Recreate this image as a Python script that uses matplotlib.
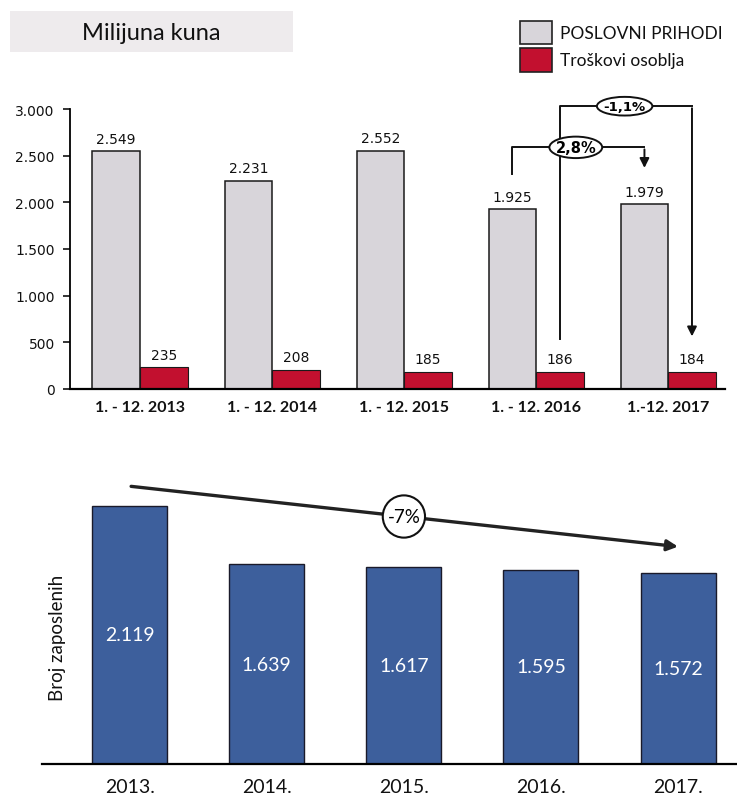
import matplotlib
matplotlib.use("Agg")
import matplotlib.pyplot as plt
from matplotlib.patches import Rectangle, Ellipse

# ---------------- data ----------------
periods = ["1. - 12. 2013", "1. - 12. 2014", "1. - 12. 2015", "1. - 12. 2016", "1.-12. 2017"]
revenue = [2549, 2231, 2552, 1925, 1979]
staff_costs = [235, 208, 185, 186, 184]
revenue_labels = ["2.549", "2.231", "2.552", "1.925", "1.979"]
cost_labels = ["235", "208", "185", "186", "184"]
yticks_top = [0, 500, 1000, 1500, 2000, 2500, 3000]
yticklabels_top = ["0", "500", "1.000", "1.500", "2.000", "2.500", "3.000"]
change_rev = "2,8%"
change_cost = "-1,1%"

years = ["2013.", "2014.", "2015.", "2016.", "2017."]
employees = [2119, 1639, 1617, 1595, 1572]
employee_labels = ["2.119", "1.639", "1.617", "1.595", "1.572"]
change_emp = "-7%"

GRAY = "#d8d5da"
RED = "#c2102f"
BLUE = "#3d5f9c"
W, H = 737, 804

fig = plt.figure(figsize=(W / 100, H / 100), dpi=100)


def fx(px):
    return px / W


def fy(py):
    return 1 - py / H


# ---------------- title box & legend ----------------
fig.patches.append(Rectangle((fx(10), fy(53)), fx(293) - fx(10), fy(12) - fy(53),
                             transform=fig.transFigure, facecolor="#eeebed", edgecolor="none"))
fig.text(fx(151), fy(33), "Milijuna kuna", ha="center", va="center", fontsize=17,
         family="Lato", color="#111111")

fig.patches.append(Rectangle((fx(520), fy(45)), fx(552) - fx(520), fy(22) - fy(45),
                             transform=fig.transFigure, facecolor=GRAY, edgecolor="#222222", lw=1.2))
fig.patches.append(Rectangle((fx(520), fy(73)), fx(552) - fx(520), fy(49) - fy(73),
                             transform=fig.transFigure, facecolor=RED, edgecolor="#222222", lw=1.2))
fig.text(fx(560), fy(34), "POSLOVNI PRIHODI", ha="left", va="center", fontsize=12.5,
         family="Lato", color="#111111")
fig.text(fx(560), fy(61), "Troškovi osoblja", ha="left", va="center", fontsize=12.5,
         family="Lato", color="#111111")

# ---------------- top chart ----------------
ax1 = fig.add_axes([fx(70), fy(390), fx(725) - fx(70), fy(110) - fy(390)])
bw = 0.36
x = list(range(len(periods)))
xg = [i - bw / 2 for i in x]
xr = [i + bw / 2 for i in x]
ax1.bar(xg, revenue, width=bw, color=GRAY, edgecolor="#1a1a1a", lw=1.1, zorder=2)
ax1.bar(xr, staff_costs, width=bw, color=RED, edgecolor="#1a1a1a", lw=0.8, zorder=2)
for xi, v, s in zip(xg, revenue, revenue_labels):
    ax1.annotate(s, (xi, v), xytext=(0, 4), textcoords="offset points", ha="center",
                 va="bottom", fontsize=10, color="#111111")
for xi, v, s in zip(xr, staff_costs, cost_labels):
    ax1.annotate(s, (xi, v), xytext=(0, 4), textcoords="offset points", ha="center",
                 va="bottom", fontsize=10, color="#111111")

ax1.set_xlim(-0.53, 4.43)
ax1.set_ylim(0, 3000)
ax1.set_yticks(yticks_top)
ax1.set_yticklabels(yticklabels_top)
ax1.set_xticks(x)
ax1.set_xticklabels(periods, family="Lato", fontsize=11.5, fontweight="bold")
ax1.tick_params(axis="x", length=0, pad=8, colors="#111111")
ax1.tick_params(axis="y", length=5, width=1.2, pad=6, labelsize=10, colors="#111111")
for s in ["top", "right"]:
    ax1.spines[s].set_visible(False)
ax1.spines["left"].set_linewidth(1.3)
ax1.spines["bottom"].set_linewidth(1.6)

# bracket 2016 -> 2017 revenue
y_start = revenue[3] + 380
y_top = max(revenue[3], revenue[4]) + 610
y_end = revenue[4] + 360
ax1.plot([xg[3], xg[3], xg[4]], [y_start, y_top, y_top], color="#111111", lw=1.4,
         clip_on=False, zorder=3)
ax1.annotate("", xy=(xg[4], y_end), xytext=(xg[4], y_top + 8),
             arrowprops=dict(arrowstyle="-|>", color="#111111", lw=1.4, mutation_scale=14),
             annotation_clip=False)
mx = (xg[3] + xg[4]) / 2 - 0.02
ax1.add_patch(Ellipse((mx, y_top), 0.40, 230, facecolor="white", edgecolor="#111111",
                      lw=1.4, clip_on=False, zorder=4))
ax1.text(mx, y_top, change_rev, ha="center", va="center", fontsize=10.5, fontweight="bold",
         zorder=5, clip_on=False)

# bracket 2016 -> 2017 staff costs
y_start2 = staff_costs[3] + 350
y_top2 = 3030
y_end2 = staff_costs[4] + 350
ax1.plot([xr[3], xr[3], xr[4]], [y_start2, y_top2, y_top2], color="#111111", lw=1.4,
         clip_on=False, zorder=3)
ax1.annotate("", xy=(xr[4], y_end2), xytext=(xr[4], y_top2 + 8),
             arrowprops=dict(arrowstyle="-|>", color="#111111", lw=1.4, mutation_scale=14),
             annotation_clip=False)
mx2 = (xr[3] + xr[4]) / 2 - 0.01
ax1.add_patch(Ellipse((mx2, y_top2), 0.42, 200, facecolor="white", edgecolor="#111111",
                      lw=1.4, clip_on=False, zorder=4))
ax1.text(mx2, y_top2, change_cost, ha="center", va="center", fontsize=9.5, fontweight="bold",
         zorder=5, clip_on=False)

# ---------------- bottom chart ----------------
ax2 = fig.add_axes([fx(42), fy(765), 1 - fx(42), 2500 * 0.1218 / H])
xb = list(range(len(years)))
ax2.bar(xb, employees, width=0.547, color=BLUE, edgecolor="#1a1a2a", lw=1.0, zorder=2)
for xi, v, s in zip(xb, employees, employee_labels):
    ax2.text(xi, v / 2, s, ha="center", va="center", color="white", fontsize=14,
             family="Lato")
ax2.set_xlim(-0.64, 4.43)
ax2.set_ylim(0, 2500)
ax2.set_yticks([])
ax2.set_xticks(xb)
ax2.set_xticklabels(years, family="Lato", fontsize=14)
ax2.tick_params(axis="x", length=0, pad=10, colors="#111111")
for s in ["top", "right", "left"]:
    ax2.spines[s].set_visible(False)
ax2.spines["bottom"].set_linewidth(1.6)

ya = employees[0] + 163
yb = employees[-1] + 210
ax2.annotate("", xy=(xb[-1] + 0.02, yb), xytext=(xb[0] - 0.01, ya),
             arrowprops=dict(arrowstyle="-|>", color="#222222", lw=2.4, mutation_scale=16),
             annotation_clip=False)
ax2.text((xb[0] + xb[-1]) / 2, (ya + yb) / 2, change_emp, ha="center", va="center",
         fontsize=13.5, family="Lato", zorder=5,
         bbox=dict(boxstyle="circle,pad=0.25", facecolor="white", edgecolor="#111111", lw=1.5))

fig.text(fx(58), fy(638), "Broj zaposlenih", rotation=90, ha="center", va="center",
         fontsize=13.5, family="Lato", color="#111111")

fig.savefig("out.png", dpi=100)
